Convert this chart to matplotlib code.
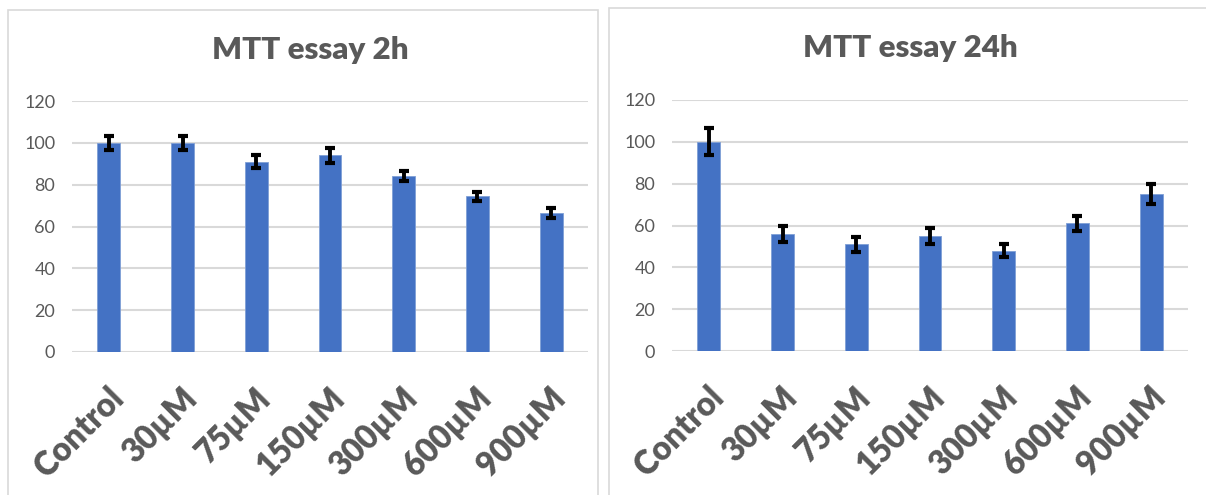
import matplotlib.pyplot as plt
import matplotlib.transforms as mtransforms
from matplotlib.patches import Rectangle

# data
categories = ['Control', '30µM', '75µM', '150µM', '300µM', '600µM', '900µM']
mtt_2h = [100, 100, 91, 94, 84, 74.5, 66.5]
err_2h = [3.2, 3.2, 3.0, 3.6, 2.4, 2.2, 2.2]
mtt_24h = [100, 56, 51, 55, 48, 61, 75]
err_24h = [6.5, 3.8, 3.6, 3.8, 3.0, 3.6, 4.8]
yticks = [0, 20, 40, 60, 80, 100, 120]

plt.rcParams['font.family'] = ['Lato', 'DejaVu Sans']
grey = '#595959'
blue = '#4472C4'

fig = plt.figure(figsize=(12.06, 4.95), dpi=100)
W, H = 1206, 495

# panel frames (pixel coords converted to figure fraction)
fig.add_artist(Rectangle((8 / W, -0.05), 590 / W, 1.05 - 10 / H, transform=fig.transFigure,
                         fill=False, edgecolor='#d9d9d9', linewidth=1.2))
fig.add_artist(Rectangle((609 / W, -0.05), 0.6, 1.05 - 8 / H, transform=fig.transFigure,
                         fill=False, edgecolor='#d9d9d9', linewidth=1.2))


def draw_panel(rect, values, errors, title, title_x, title_y):
    ax = fig.add_axes(rect)
    x = range(len(categories))
    ax.bar(x, values, width=0.31, color=blue, edgecolor='#7f9fd6', linewidth=0.6, zorder=3)
    ax.errorbar(x, values, yerr=errors, fmt='none', ecolor='black', elinewidth=2.8,
                capsize=3.4, capthick=3, zorder=4)
    ax.set_ylim(0, 120)
    ax.set_xlim(-0.5, len(categories) - 0.5)
    ax.set_yticks(yticks)
    ax.yaxis.grid(True, color='#d9d9d9', linewidth=1.5, zorder=0)
    ax.set_axisbelow(True)
    for s in ax.spines.values():
        s.set_visible(False)
    ax.tick_params(axis='both', length=0)
    ax.tick_params(axis='y', labelsize=13, labelcolor=grey, pad=12)
    ax.set_xticks(list(x))
    ax.set_xticklabels(categories, rotation=45, ha='right', va='top', rotation_mode='anchor',
                       fontsize=23.5, fontweight='heavy', color=grey)
    offset = mtransforms.ScaledTranslation(-0.02, -0.25, fig.dpi_scale_trans)
    for lab in ax.get_xticklabels():
        lab.set_transform(lab.get_transform() + offset)
    fig.text(title_x, title_y, title, ha='center', va='center', fontsize=22.5,
             fontweight='heavy', color=grey)
    return ax


draw_panel([72 / W, 1 - 352 / H, 516 / W, 251 / H], mtt_2h, err_2h,
           'MTT essay 2h', 310 / W, 1 - 50 / H)
draw_panel([672 / W, 1 - 351 / H, 516 / W, 251 / H], mtt_24h, err_24h,
           'MTT essay 24h', 910 / W, 1 - 48 / H)

fig.savefig('out.png', dpi=100)
